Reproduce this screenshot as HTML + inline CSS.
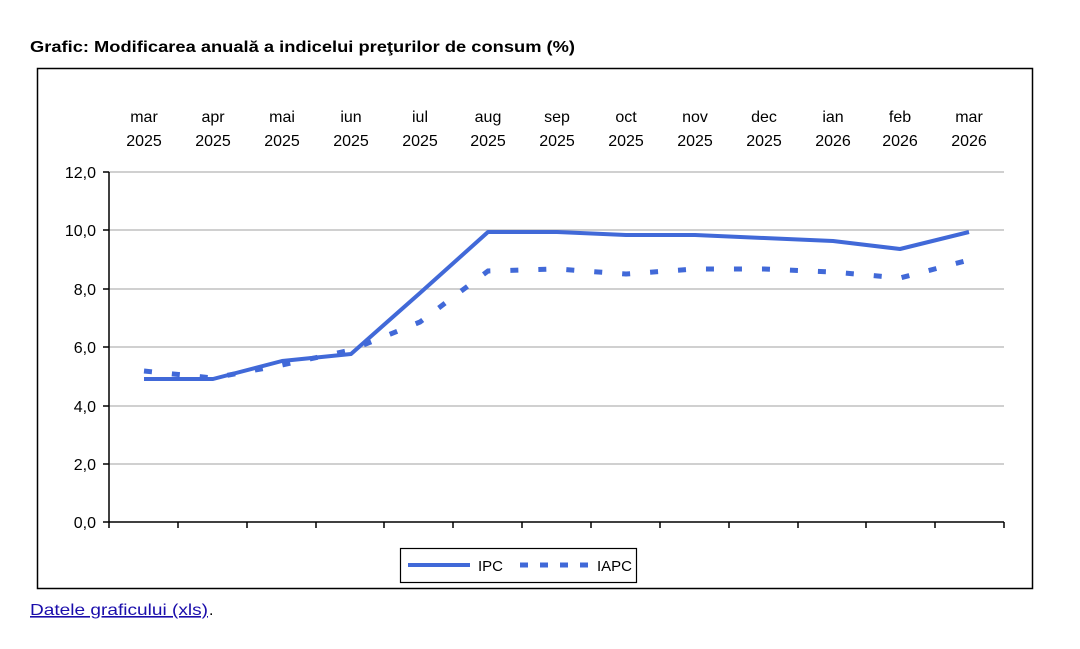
<!DOCTYPE html>
<html><head><meta charset="utf-8"><style>
body{margin:0;background:#fff;width:1080px;height:644px;overflow:hidden;font-family:"Liberation Sans",sans-serif}
</style></head><body>
<svg width="1080" height="644" xmlns="http://www.w3.org/2000/svg" font-family="Liberation Sans, sans-serif">
<text x="30" y="52" font-size="16" font-weight="bold" fill="#000" textLength="545" lengthAdjust="spacingAndGlyphs">Grafic: Modificarea anuală a indicelui preţurilor de consum (%)</text>
<rect x="37.5" y="68.5" width="995" height="520" fill="#fff" stroke="#000" stroke-width="1.5"/>
<g stroke="#c0c0c0" stroke-width="1.5">
<line x1="109" y1="172" x2="1004" y2="172"/>
<line x1="109" y1="230" x2="1004" y2="230"/>
<line x1="109" y1="289" x2="1004" y2="289"/>
<line x1="109" y1="347" x2="1004" y2="347"/>
<line x1="109" y1="406" x2="1004" y2="406"/>
<line x1="109" y1="464" x2="1004" y2="464"/>
</g>
<g stroke="#000" stroke-width="1.5">
<line x1="109" y1="172" x2="109" y2="528"/>
<line x1="103" y1="522" x2="1004" y2="522"/>
<line x1="103" y1="172" x2="109" y2="172"/><line x1="103" y1="230" x2="109" y2="230"/>
<line x1="103" y1="289" x2="109" y2="289"/><line x1="103" y1="347" x2="109" y2="347"/>
<line x1="103" y1="406" x2="109" y2="406"/><line x1="103" y1="464" x2="109" y2="464"/>
<line x1="178" y1="522" x2="178" y2="528"/><line x1="247" y1="522" x2="247" y2="528"/>
<line x1="316" y1="522" x2="316" y2="528"/><line x1="384" y1="522" x2="384" y2="528"/>
<line x1="453" y1="522" x2="453" y2="528"/><line x1="522" y1="522" x2="522" y2="528"/>
<line x1="591" y1="522" x2="591" y2="528"/><line x1="660" y1="522" x2="660" y2="528"/>
<line x1="729" y1="522" x2="729" y2="528"/><line x1="798" y1="522" x2="798" y2="528"/>
<line x1="866" y1="522" x2="866" y2="528"/><line x1="935" y1="522" x2="935" y2="528"/>
<line x1="1004" y1="522" x2="1004" y2="528"/>
</g>
<g font-size="16" text-anchor="end" fill="#000">
<text x="96" y="178">12,0</text><text x="96" y="236">10,0</text><text x="96" y="295">8,0</text>
<text x="96" y="353">6,0</text><text x="96" y="412">4,0</text><text x="96" y="470">2,0</text><text x="96" y="528">0,0</text>
</g>
<g font-size="16" text-anchor="middle" fill="#000">
<text x="144" y="122">mar</text><text x="144" y="146">2025</text>
<text x="213" y="122">apr</text><text x="213" y="146">2025</text>
<text x="282" y="122">mai</text><text x="282" y="146">2025</text>
<text x="351" y="122">iun</text><text x="351" y="146">2025</text>
<text x="420" y="122">iul</text><text x="420" y="146">2025</text>
<text x="488" y="122">aug</text><text x="488" y="146">2025</text>
<text x="557" y="122">sep</text><text x="557" y="146">2025</text>
<text x="626" y="122">oct</text><text x="626" y="146">2025</text>
<text x="695" y="122">nov</text><text x="695" y="146">2025</text>
<text x="764" y="122">dec</text><text x="764" y="146">2025</text>
<text x="833" y="122">ian</text><text x="833" y="146">2026</text>
<text x="900" y="122">feb</text><text x="900" y="146">2026</text>
<text x="969" y="122">mar</text><text x="969" y="146">2026</text>
</g>
<polyline fill="none" stroke="#4169d8" stroke-width="5" stroke-dasharray="8,20" points="144,371 213,378 282,365 351,350 420,322 488,271 557,269 626,274 695,269 764,269 833,272 900,278 969,260"/>
<polyline fill="none" stroke="#4169d8" stroke-width="4" stroke-linejoin="round" points="144,379 213,379 282,361 351,354 420,293 488,232 557,232 626,235 695,235 764,238 833,241 900,249 969,232"/>
<rect x="400.5" y="548.5" width="236" height="34" fill="#fff" stroke="#000" stroke-width="1.2"/>
<line x1="408" y1="565" x2="470" y2="565" stroke="#4169d8" stroke-width="4"/>
<text x="478" y="571" font-size="15">IPC</text>
<line x1="520" y1="565" x2="590" y2="565" stroke="#4169d8" stroke-width="5" stroke-dasharray="8,12"/>
<text x="597" y="571" font-size="15">IAPC</text>
<text x="30" y="615" font-size="16" fill="#1a0dab" text-decoration="underline" textLength="178" lengthAdjust="spacingAndGlyphs">Datele graficului (xls)</text>
<text x="209" y="615" font-size="16" fill="#000">.</text>
</svg>
</body></html>
